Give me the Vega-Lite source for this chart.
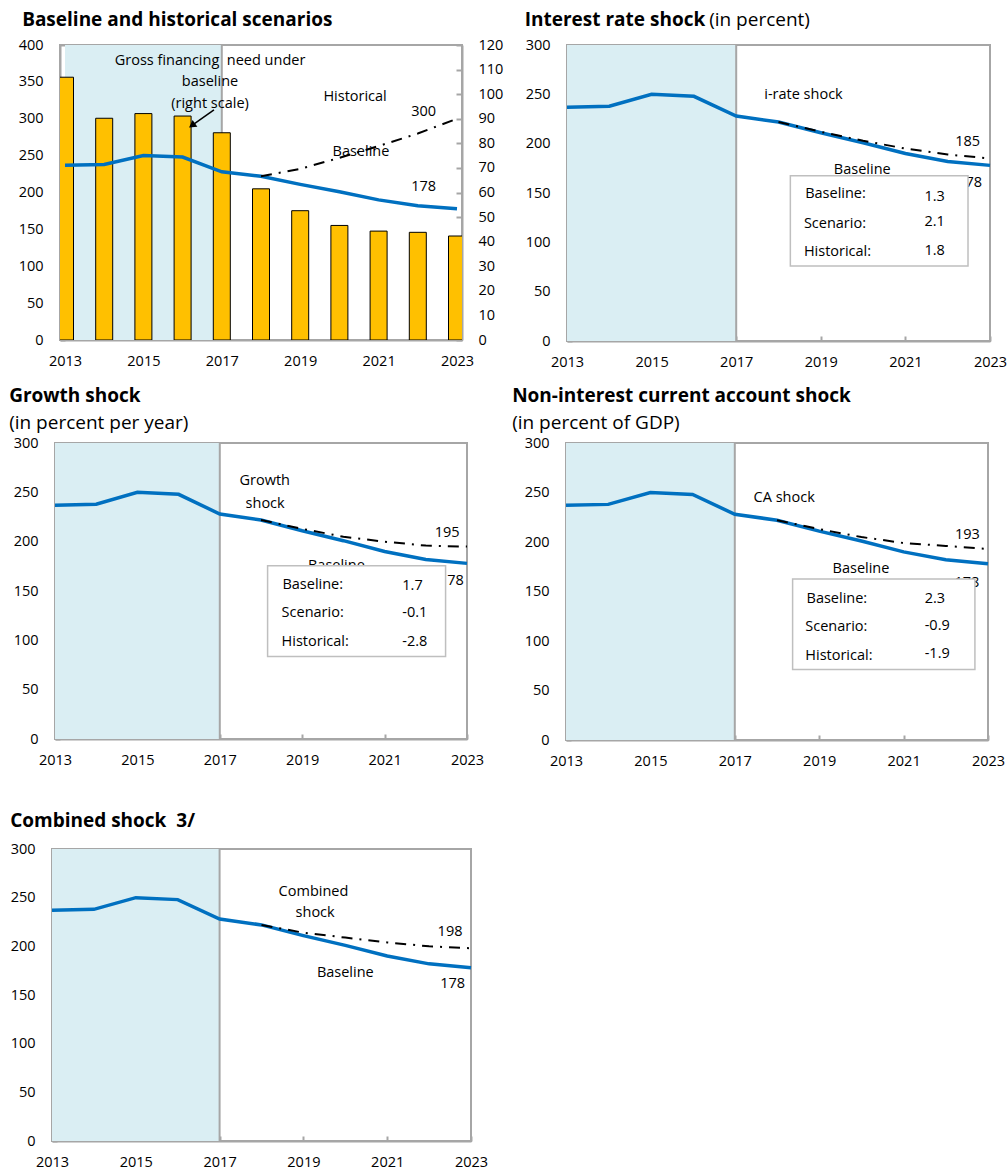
{
  "$schema": "https://vega.github.io/schema/vega-lite/v6.json",
  "background": "white",
  "padding": {"left": 7, "top": 10, "right": 0, "bottom": 0},
  "spacing": 42,
  "datasets": {
    "shade": [{"from": 2013, "to": 2017}],
    "base": [
      {"year": 2013, "value": 237}, {"year": 2014, "value": 238}, {"year": 2015, "value": 250},
      {"year": 2016, "value": 248}, {"year": 2017, "value": 228}, {"year": 2018, "value": 222},
      {"year": 2019, "value": 211}, {"year": 2020, "value": 201}, {"year": 2021, "value": 190},
      {"year": 2022, "value": 182}, {"year": 2023, "value": 178}
    ],
    "gfn": [
      {"year": 2013, "gfn": 106.9}, {"year": 2014, "gfn": 90.2}, {"year": 2015, "gfn": 92.1},
      {"year": 2016, "gfn": 91.1}, {"year": 2017, "gfn": 84.3}, {"year": 2018, "gfn": 61.5},
      {"year": 2019, "gfn": 52.6}, {"year": 2020, "gfn": 46.6}, {"year": 2021, "gfn": 44.3},
      {"year": 2022, "gfn": 43.8}, {"year": 2023, "gfn": 42.3}
    ],
    "scen": [
      {"panel": "p1", "year": 2018, "value": 222}, {"panel": "p1", "year": 2019, "value": 232},
      {"panel": "p1", "year": 2020, "value": 247}, {"panel": "p1", "year": 2021, "value": 263},
      {"panel": "p1", "year": 2022, "value": 280}, {"panel": "p1", "year": 2023, "value": 300},
      {"panel": "p2", "year": 2018, "value": 222}, {"panel": "p2", "year": 2019, "value": 212},
      {"panel": "p2", "year": 2020, "value": 203}, {"panel": "p2", "year": 2021, "value": 195},
      {"panel": "p2", "year": 2022, "value": 189}, {"panel": "p2", "year": 2023, "value": 185},
      {"panel": "p3", "year": 2018, "value": 222}, {"panel": "p3", "year": 2019, "value": 213},
      {"panel": "p3", "year": 2020, "value": 205}, {"panel": "p3", "year": 2021, "value": 200},
      {"panel": "p3", "year": 2022, "value": 196}, {"panel": "p3", "year": 2023, "value": 195},
      {"panel": "p4", "year": 2018, "value": 222}, {"panel": "p4", "year": 2019, "value": 213},
      {"panel": "p4", "year": 2020, "value": 205}, {"panel": "p4", "year": 2021, "value": 199},
      {"panel": "p4", "year": 2022, "value": 196}, {"panel": "p4", "year": 2023, "value": 193},
      {"panel": "p5", "year": 2018, "value": 222}, {"panel": "p5", "year": 2019, "value": 214},
      {"panel": "p5", "year": 2020, "value": 209}, {"panel": "p5", "year": 2021, "value": 204},
      {"panel": "p5", "year": 2022, "value": 200}, {"panel": "p5", "year": 2023, "value": 198}
    ],
    "labels": [
      {"panel": "p1", "year": 2016.7, "value": 378, "text": "Gross financing\u00a0 need under"},
      {"panel": "p1", "year": 2016.7, "value": 350, "text": "baseline"},
      {"panel": "p1", "year": 2016.7, "value": 320, "text": "(right scale)"},
      {"panel": "p1", "year": 2020.4, "value": 330, "text": "Historical"},
      {"panel": "p1", "year": 2022.15, "value": 309, "text": "300"},
      {"panel": "p1", "year": 2020.55, "value": 255, "text": "Baseline"},
      {"panel": "p1", "year": 2022.15, "value": 207, "text": "178"},
      {"panel": "p2", "year": 2018.59, "value": 249, "text": "i-rate shock"},
      {"panel": "p2", "year": 2022.47, "value": 202, "text": "185"},
      {"panel": "p2", "year": 2019.98, "value": 173, "text": "Baseline"},
      {"panel": "p2", "year": 2022.52, "value": 160, "text": "178"},
      {"panel": "p3", "year": 2018.09, "value": 261, "text": "Growth"},
      {"panel": "p3", "year": 2018.1, "value": 238.5, "text": "shock"},
      {"panel": "p3", "year": 2022.52, "value": 209, "text": "195"},
      {"panel": "p3", "year": 2019.83, "value": 175, "text": "Baseline"},
      {"panel": "p3", "year": 2022.62, "value": 160, "text": "178"},
      {"panel": "p4", "year": 2018.17, "value": 244, "text": "CA shock"},
      {"panel": "p4", "year": 2022.51, "value": 207, "text": "193"},
      {"panel": "p4", "year": 2019.99, "value": 173, "text": "Baseline"},
      {"panel": "p4", "year": 2022.5, "value": 159, "text": "178"},
      {"panel": "p5", "year": 2019.24, "value": 256, "text": "Combined"},
      {"panel": "p5", "year": 2019.28, "value": 234, "text": "shock"},
      {"panel": "p5", "year": 2022.5, "value": 214.8, "text": "198"},
      {"panel": "p5", "year": 2020.0, "value": 172.7, "text": "Baseline"},
      {"panel": "p5", "year": 2022.56, "value": 160.8, "text": "178"}
    ],
    "boxes": [
      {"panel": "p2", "x1": 2018.28, "x2": 2022.48, "y1": 76, "y2": 167.5},
      {"panel": "p3", "x1": 2018.16, "x2": 2022.48, "y1": 83.7, "y2": 175.6},
      {"panel": "p4", "x1": 2018.37, "x2": 2022.69, "y1": 71.3, "y2": 162.6}
    ],
    "boxtext": [
      {"panel": "p2", "year": 2018.63, "value": 148.6, "text": "Baseline:"},
      {"panel": "p2", "year": 2018.6, "value": 119, "text": "Scenario:"},
      {"panel": "p2", "year": 2018.6, "value": 90, "text": "Historical:"},
      {"panel": "p2", "year": 2021.45, "value": 146, "text": "1.3"},
      {"panel": "p2", "year": 2021.45, "value": 121, "text": "2.1"},
      {"panel": "p2", "year": 2021.45, "value": 91.5, "text": "1.8"},
      {"panel": "p3", "year": 2018.52, "value": 155.7, "text": "Baseline:"},
      {"panel": "p3", "year": 2018.5, "value": 127.7, "text": "Scenario:"},
      {"panel": "p3", "year": 2018.5, "value": 98.3, "text": "Historical:"},
      {"panel": "p3", "year": 2021.43, "value": 154.7, "text": "1.7"},
      {"panel": "p3", "year": 2021.43, "value": 127.7, "text": "-0.1"},
      {"panel": "p3", "year": 2021.43, "value": 98.3, "text": "-2.8"},
      {"panel": "p4", "year": 2018.7, "value": 142.4, "text": "Baseline:"},
      {"panel": "p4", "year": 2018.67, "value": 113.7, "text": "Scenario:"},
      {"panel": "p4", "year": 2018.67, "value": 85, "text": "Historical:"},
      {"panel": "p4", "year": 2021.5, "value": 142.4, "text": "2.3"},
      {"panel": "p4", "year": 2021.5, "value": 115, "text": "-0.9"},
      {"panel": "p4", "year": 2021.5, "value": 86.9, "text": "-1.9"}
    ],
    "heading": [
      {"panel": "p2", "part": "title", "year": 2012.0, "value": 325.3, "text": "Interest rate shock"},
      {"panel": "p2", "part": "sub", "year": 2016.36, "value": 325.3, "text": "(in percent)"}
    ],
    "arrow": [{"x1": 2016.8, "y1": 312, "x2": 2016.24, "y2": 291}]
  },
  "vconcat": [
    {
      "spacing": 16,
      "vconcat": [
        {
          "spacing": 19,
          "hconcat": [
            {
              "spacing": 0,
              "hconcat": [
                {
                  "width": 10, "height": 10,
                  "view": {"stroke": null},
                  "data": {"name": "shade"},
                  "mark": {"type": "text"},
                  "encoding": {"text": {"value": ""}}
                },
                {
                  "width": 402, "height": 295,
                  "title": {"text": "Baseline and historical scenarios", "dx": 4, "offset": 7},
                  "resolve": {"scale": {"y": "independent"}, "axis": {"y": "independent"}},
                  "layer": [
                    {
                      "data": {"name": "shade"},
                      "mark": {"type": "rect", "color": "#DAEEF3"},
                      "encoding": {
                        "x": {"field": "from", "type": "quantitative", "scale": {"domain": [2013, 2023], "nice": false, "zero": false},
                          "axis": {"values": [2013, 2015, 2017, 2019, 2021, 2023], "format": "d", "title": null, "labelFlush": false, "tickSize": -5, "labelPadding": 19}},
                        "x2": {"field": "to"},
                        "y": {"datum": 0, "type": "quantitative", "scale": {"domain": [0, 400], "nice": false}, "axis": null},
                        "y2": {"datum": 400}
                      }
                    },
                    {
                      "data": {"name": "shade"},
                      "mark": {"type": "rule", "color": "#A6A6A6", "strokeWidth": 2},
                      "encoding": {
                        "x": {"field": "to", "type": "quantitative"},
                        "y": {"datum": 0, "type": "quantitative", "scale": {"domain": [0, 400], "nice": false}, "axis": null},
                        "y2": {"datum": 400}
                      }
                    },
                    {
                      "data": {"name": "gfn"},
                      "mark": {"type": "bar", "color": "#FFC000", "stroke": "#000000", "strokeWidth": 1, "size": 17, "clip": true},
                      "encoding": {
                        "x": {"field": "year", "type": "quantitative"},
                        "y": {"field": "gfn", "type": "quantitative", "scale": {"domain": [0, 120], "nice": false},
                          "axis": {"orient": "right", "values": [0, 10, 20, 30, 40, 50, 60, 70, 80, 90, 100, 110, 120], "title": null, "tickSize": -6, "labelPadding": 22, "labelOverlap": false}}
                      }
                    },
                    {
                      "data": {"name": "base"},
                      "mark": {"type": "line", "color": "#0070C0", "strokeWidth": 3.5},
                      "encoding": {
                        "x": {"field": "year", "type": "quantitative"},
                        "y": {"field": "value", "type": "quantitative", "scale": {"domain": [0, 400], "nice": false},
                          "axis": {"orient": "left", "values": [0, 50, 100, 150, 200, 250, 300, 350, 400], "title": null, "tickSize": -5, "labelPadding": 22, "labelOverlap": false}}
                      }
                    },
                    {
                      "data": {"name": "scen"},
                      "transform": [{"filter": "datum.panel === 'p1'"}],
                      "mark": {"type": "line", "color": "#000000", "strokeWidth": 2, "strokeDash": [11, 7, 2, 7]},
                      "encoding": {"x": {"field": "year", "type": "quantitative"}, "y": {"field": "value", "type": "quantitative", "scale": {"domain": [0, 400], "nice": false}, "axis": null}}
                    },
                    {
                      "data": {"name": "labels"},
                      "transform": [{"filter": "datum.panel === 'p1'"}],
                      "mark": {"type": "text", "align": "center", "baseline": "middle"},
                      "encoding": {"x": {"field": "year", "type": "quantitative"}, "y": {"field": "value", "type": "quantitative", "scale": {"domain": [0, 400], "nice": false}, "axis": null}, "text": {"field": "text"}}
                    },
                    {
                      "data": {"name": "arrow"},
                      "mark": {"type": "rule", "color": "#000000", "strokeWidth": 1.5},
                      "encoding": {"x": {"field": "x1", "type": "quantitative"}, "y": {"field": "y1", "type": "quantitative", "scale": {"domain": [0, 400], "nice": false}, "axis": null}, "x2": {"field": "x2"}, "y2": {"field": "y2"}}
                    },
                    {
                      "data": {"name": "arrow"},
                      "mark": {"type": "point", "shape": "triangle-up", "filled": true, "color": "#000000", "opacity": 1, "size": 70, "angle": 235},
                      "encoding": {"x": {"field": "x2", "type": "quantitative"}, "y": {"field": "y2", "type": "quantitative", "scale": {"domain": [0, 400], "nice": false}, "axis": null}}
                    }
                  ]
                }
              ]
            },
            {
              "width": 423, "height": 296,
              "layer": [
                {
                  "data": {"name": "shade"},
                  "mark": {"type": "rect", "color": "#DAEEF3"},
                  "encoding": {
                    "x": {"field": "from", "type": "quantitative", "scale": {"domain": [2013, 2023], "nice": false, "zero": false},
                      "axis": {"values": [2013, 2015, 2017, 2019, 2021, 2023], "format": "d", "title": null, "labelFlush": false, "tickSize": -5, "labelPadding": 19}},
                    "x2": {"field": "to"},
                    "y": {"datum": 0, "type": "quantitative", "scale": {"domain": [0, 300], "nice": false},
                      "axis": {"values": [0, 50, 100, 150, 200, 250, 300], "title": null, "tickSize": -5, "labelPadding": 22}},
                    "y2": {"datum": 300}
                  }
                },
                {
                  "data": {"name": "shade"},
                  "mark": {"type": "rule", "color": "#A6A6A6", "strokeWidth": 2},
                  "encoding": {"x": {"field": "to", "type": "quantitative"}, "y": {"datum": 0, "type": "quantitative"}, "y2": {"datum": 300}}
                },
                {
                  "data": {"name": "base"},
                  "mark": {"type": "line", "color": "#0070C0", "strokeWidth": 3.5},
                  "encoding": {"x": {"field": "year", "type": "quantitative"}, "y": {"field": "value", "type": "quantitative"}}
                },
                {
                  "data": {"name": "scen"},
                  "transform": [{"filter": "datum.panel === 'p2'"}],
                  "mark": {"type": "line", "color": "#000000", "strokeWidth": 2, "strokeDash": [11, 7, 2, 7]},
                  "encoding": {"x": {"field": "year", "type": "quantitative"}, "y": {"field": "value", "type": "quantitative"}}
                },
                {
                  "data": {"name": "labels"},
                  "transform": [{"filter": "datum.panel === 'p2'"}],
                  "mark": {"type": "text", "align": "center", "baseline": "middle"},
                  "encoding": {"x": {"field": "year", "type": "quantitative"}, "y": {"field": "value", "type": "quantitative"}, "text": {"field": "text"}}
                },
                {
                  "data": {"name": "boxes"},
                  "transform": [{"filter": "datum.panel === 'p2'"}],
                  "mark": {"type": "rect", "fill": "#FFFFFF", "stroke": "#BFBFBF", "strokeWidth": 1.5},
                  "encoding": {"x": {"field": "x1", "type": "quantitative"}, "x2": {"field": "x2"}, "y": {"field": "y1", "type": "quantitative"}, "y2": {"field": "y2"}}
                },
                {
                  "data": {"name": "boxtext"},
                  "transform": [{"filter": "datum.panel === 'p2'"}],
                  "mark": {"type": "text", "align": "left", "baseline": "middle"},
                  "encoding": {"x": {"field": "year", "type": "quantitative"}, "y": {"field": "value", "type": "quantitative"}, "text": {"field": "text"}}
                },
                {
                  "data": {"name": "heading"},
                  "transform": [{"filter": "datum.panel === 'p2' && datum.part === 'title'"}],
                  "mark": {"type": "text", "align": "left", "baseline": "middle", "fontSize": 19, "fontWeight": "bold"},
                  "encoding": {"x": {"field": "year", "type": "quantitative"}, "y": {"field": "value", "type": "quantitative"}, "text": {"field": "text"}}
                },
                {
                  "data": {"name": "heading"},
                  "transform": [{"filter": "datum.panel === 'p2' && datum.part === 'sub'"}],
                  "mark": {"type": "text", "align": "left", "baseline": "middle", "fontSize": 19},
                  "encoding": {"x": {"field": "year", "type": "quantitative"}, "y": {"field": "value", "type": "quantitative"}, "text": {"field": "text"}}
                }
              ]
            }
          ]
        },
        {
          "spacing": 26,
          "hconcat": [
            {
              "spacing": 0,
              "hconcat": [
                {
                  "width": 1, "height": 10,
                  "view": {"stroke": null},
                  "data": {"name": "shade"},
                  "mark": {"type": "text"},
                  "encoding": {"text": {"value": ""}}
                },
                {
                  "width": 412, "height": 296,
                  "title": {"text": "Growth shock", "subtitle": "(in percent per year)", "dx": -4, "offset": 2},
                  "layer": [
                    {
                      "data": {"name": "shade"},
                      "mark": {"type": "rect", "color": "#DAEEF3"},
                      "encoding": {
                        "x": {"field": "from", "type": "quantitative", "scale": {"domain": [2013, 2023], "nice": false, "zero": false},
                          "axis": {"values": [2013, 2015, 2017, 2019, 2021, 2023], "format": "d", "title": null, "labelFlush": false, "tickSize": -5, "labelPadding": 19}},
                        "x2": {"field": "to"},
                        "y": {"datum": 0, "type": "quantitative", "scale": {"domain": [0, 300], "nice": false},
                          "axis": {"values": [0, 50, 100, 150, 200, 250, 300], "title": null, "tickSize": -5, "labelPadding": 22}},
                        "y2": {"datum": 300}
                      }
                    },
                    {
                      "data": {"name": "shade"},
                      "mark": {"type": "rule", "color": "#A6A6A6", "strokeWidth": 2},
                      "encoding": {"x": {"field": "to", "type": "quantitative"}, "y": {"datum": 0, "type": "quantitative"}, "y2": {"datum": 300}}
                    },
                    {
                      "data": {"name": "base"},
                      "mark": {"type": "line", "color": "#0070C0", "strokeWidth": 3.5},
                      "encoding": {"x": {"field": "year", "type": "quantitative"}, "y": {"field": "value", "type": "quantitative"}}
                    },
                    {
                      "data": {"name": "scen"},
                      "transform": [{"filter": "datum.panel === 'p3'"}],
                      "mark": {"type": "line", "color": "#000000", "strokeWidth": 2, "strokeDash": [11, 7, 2, 7]},
                      "encoding": {"x": {"field": "year", "type": "quantitative"}, "y": {"field": "value", "type": "quantitative"}}
                    },
                    {
                      "data": {"name": "labels"},
                      "transform": [{"filter": "datum.panel === 'p3'"}],
                      "mark": {"type": "text", "align": "center", "baseline": "middle"},
                      "encoding": {"x": {"field": "year", "type": "quantitative"}, "y": {"field": "value", "type": "quantitative"}, "text": {"field": "text"}}
                    },
                    {
                      "data": {"name": "boxes"},
                      "transform": [{"filter": "datum.panel === 'p3'"}],
                      "mark": {"type": "rect", "fill": "#FFFFFF", "stroke": "#BFBFBF", "strokeWidth": 1.5},
                      "encoding": {"x": {"field": "x1", "type": "quantitative"}, "x2": {"field": "x2"}, "y": {"field": "y1", "type": "quantitative"}, "y2": {"field": "y2"}}
                    },
                    {
                      "data": {"name": "boxtext"},
                      "transform": [{"filter": "datum.panel === 'p3'"}],
                      "mark": {"type": "text", "align": "left", "baseline": "middle"},
                      "encoding": {"x": {"field": "year", "type": "quantitative"}, "y": {"field": "value", "type": "quantitative"}, "text": {"field": "text"}}
                    }
                  ]
                }
              ]
            },
            {
              "width": 422, "height": 297,
              "title": {"text": "Non-interest current account shock", "subtitle": "(in percent of GDP)", "dx": -12, "offset": 2},
              "layer": [
                {
                  "data": {"name": "shade"},
                  "mark": {"type": "rect", "color": "#DAEEF3"},
                  "encoding": {
                    "x": {"field": "from", "type": "quantitative", "scale": {"domain": [2013, 2023], "nice": false, "zero": false},
                      "axis": {"values": [2013, 2015, 2017, 2019, 2021, 2023], "format": "d", "title": null, "labelFlush": false, "tickSize": -5, "labelPadding": 19}},
                    "x2": {"field": "to"},
                    "y": {"datum": 0, "type": "quantitative", "scale": {"domain": [0, 300], "nice": false},
                      "axis": {"values": [0, 50, 100, 150, 200, 250, 300], "title": null, "tickSize": -5, "labelPadding": 22}},
                    "y2": {"datum": 300}
                  }
                },
                {
                  "data": {"name": "shade"},
                  "mark": {"type": "rule", "color": "#A6A6A6", "strokeWidth": 2},
                  "encoding": {"x": {"field": "to", "type": "quantitative"}, "y": {"datum": 0, "type": "quantitative"}, "y2": {"datum": 300}}
                },
                {
                  "data": {"name": "base"},
                  "mark": {"type": "line", "color": "#0070C0", "strokeWidth": 3.5},
                  "encoding": {"x": {"field": "year", "type": "quantitative"}, "y": {"field": "value", "type": "quantitative"}}
                },
                {
                  "data": {"name": "scen"},
                  "transform": [{"filter": "datum.panel === 'p4'"}],
                  "mark": {"type": "line", "color": "#000000", "strokeWidth": 2, "strokeDash": [11, 7, 2, 7]},
                  "encoding": {"x": {"field": "year", "type": "quantitative"}, "y": {"field": "value", "type": "quantitative"}}
                },
                {
                  "data": {"name": "labels"},
                  "transform": [{"filter": "datum.panel === 'p4'"}],
                  "mark": {"type": "text", "align": "center", "baseline": "middle"},
                  "encoding": {"x": {"field": "year", "type": "quantitative"}, "y": {"field": "value", "type": "quantitative"}, "text": {"field": "text"}}
                },
                {
                  "data": {"name": "boxes"},
                  "transform": [{"filter": "datum.panel === 'p4'"}],
                  "mark": {"type": "rect", "fill": "#FFFFFF", "stroke": "#BFBFBF", "strokeWidth": 1.5},
                  "encoding": {"x": {"field": "x1", "type": "quantitative"}, "x2": {"field": "x2"}, "y": {"field": "y1", "type": "quantitative"}, "y2": {"field": "y2"}}
                },
                {
                  "data": {"name": "boxtext"},
                  "transform": [{"filter": "datum.panel === 'p4'"}],
                  "mark": {"type": "text", "align": "left", "baseline": "middle"},
                  "encoding": {"x": {"field": "year", "type": "quantitative"}, "y": {"field": "value", "type": "quantitative"}, "text": {"field": "text"}}
                }
              ]
            }
          ]
        }
      ]
    },
    {
      "spacing": 0,
      "hconcat": [
        {
          "width": 2, "height": 10,
          "view": {"stroke": null},
          "data": {"name": "shade"},
          "mark": {"type": "text"},
          "encoding": {"text": {"value": ""}}
        },
        {
          "width": 419, "height": 292,
          "title": {"text": "Combined shock\u00a0 3/", "offset": 10},
          "layer": [
            {
              "data": {"name": "shade"},
              "mark": {"type": "rect", "color": "#DAEEF3"},
              "encoding": {
                "x": {"field": "from", "type": "quantitative", "scale": {"domain": [2013, 2023], "nice": false, "zero": false},
                  "axis": {"values": [2013, 2015, 2017, 2019, 2021, 2023], "format": "d", "title": null, "labelFlush": false, "tickSize": -5, "labelPadding": 19}},
                "x2": {"field": "to"},
                "y": {"datum": 0, "type": "quantitative", "scale": {"domain": [0, 300], "nice": false},
                  "axis": {"values": [0, 50, 100, 150, 200, 250, 300], "title": null, "tickSize": -5, "labelPadding": 22}},
                "y2": {"datum": 300}
              }
            },
            {
              "data": {"name": "shade"},
              "mark": {"type": "rule", "color": "#A6A6A6", "strokeWidth": 2},
              "encoding": {"x": {"field": "to", "type": "quantitative"}, "y": {"datum": 0, "type": "quantitative"}, "y2": {"datum": 300}}
            },
            {
              "data": {"name": "base"},
              "mark": {"type": "line", "color": "#0070C0", "strokeWidth": 3.5},
              "encoding": {"x": {"field": "year", "type": "quantitative"}, "y": {"field": "value", "type": "quantitative"}}
            },
            {
              "data": {"name": "scen"},
              "transform": [{"filter": "datum.panel === 'p5'"}],
              "mark": {"type": "line", "color": "#000000", "strokeWidth": 2, "strokeDash": [11, 7, 2, 7]},
              "encoding": {"x": {"field": "year", "type": "quantitative"}, "y": {"field": "value", "type": "quantitative"}}
            },
            {
              "data": {"name": "labels"},
              "transform": [{"filter": "datum.panel === 'p5'"}],
              "mark": {"type": "text", "align": "center", "baseline": "middle"},
              "encoding": {"x": {"field": "year", "type": "quantitative"}, "y": {"field": "value", "type": "quantitative"}, "text": {"field": "text"}}
            }
          ]
        }
      ]
    }
  ],
  "config": {
    "font": "Open Sans",
    "view": {"stroke": "#A6A6A6", "strokeWidth": 2},
    "axis": {"domainColor": "#A6A6A6", "domainWidth": 2, "tickColor": "#A6A6A6", "tickWidth": 2, "grid": false,
      "labelColor": "#000000", "labelFontSize": 14.5, "labelFont": "Open Sans"},
    "title": {"anchor": "start", "frame": "bounds", "fontSize": 19, "fontWeight": "bold", "color": "#000000", "font": "Open Sans",
      "subtitleFontSize": 19, "subtitleColor": "#000000", "subtitleFont": "Open Sans", "subtitlePadding": 8},
    "text": {"font": "Open Sans", "fontSize": 14.5, "color": "#000000"}
  }
}
